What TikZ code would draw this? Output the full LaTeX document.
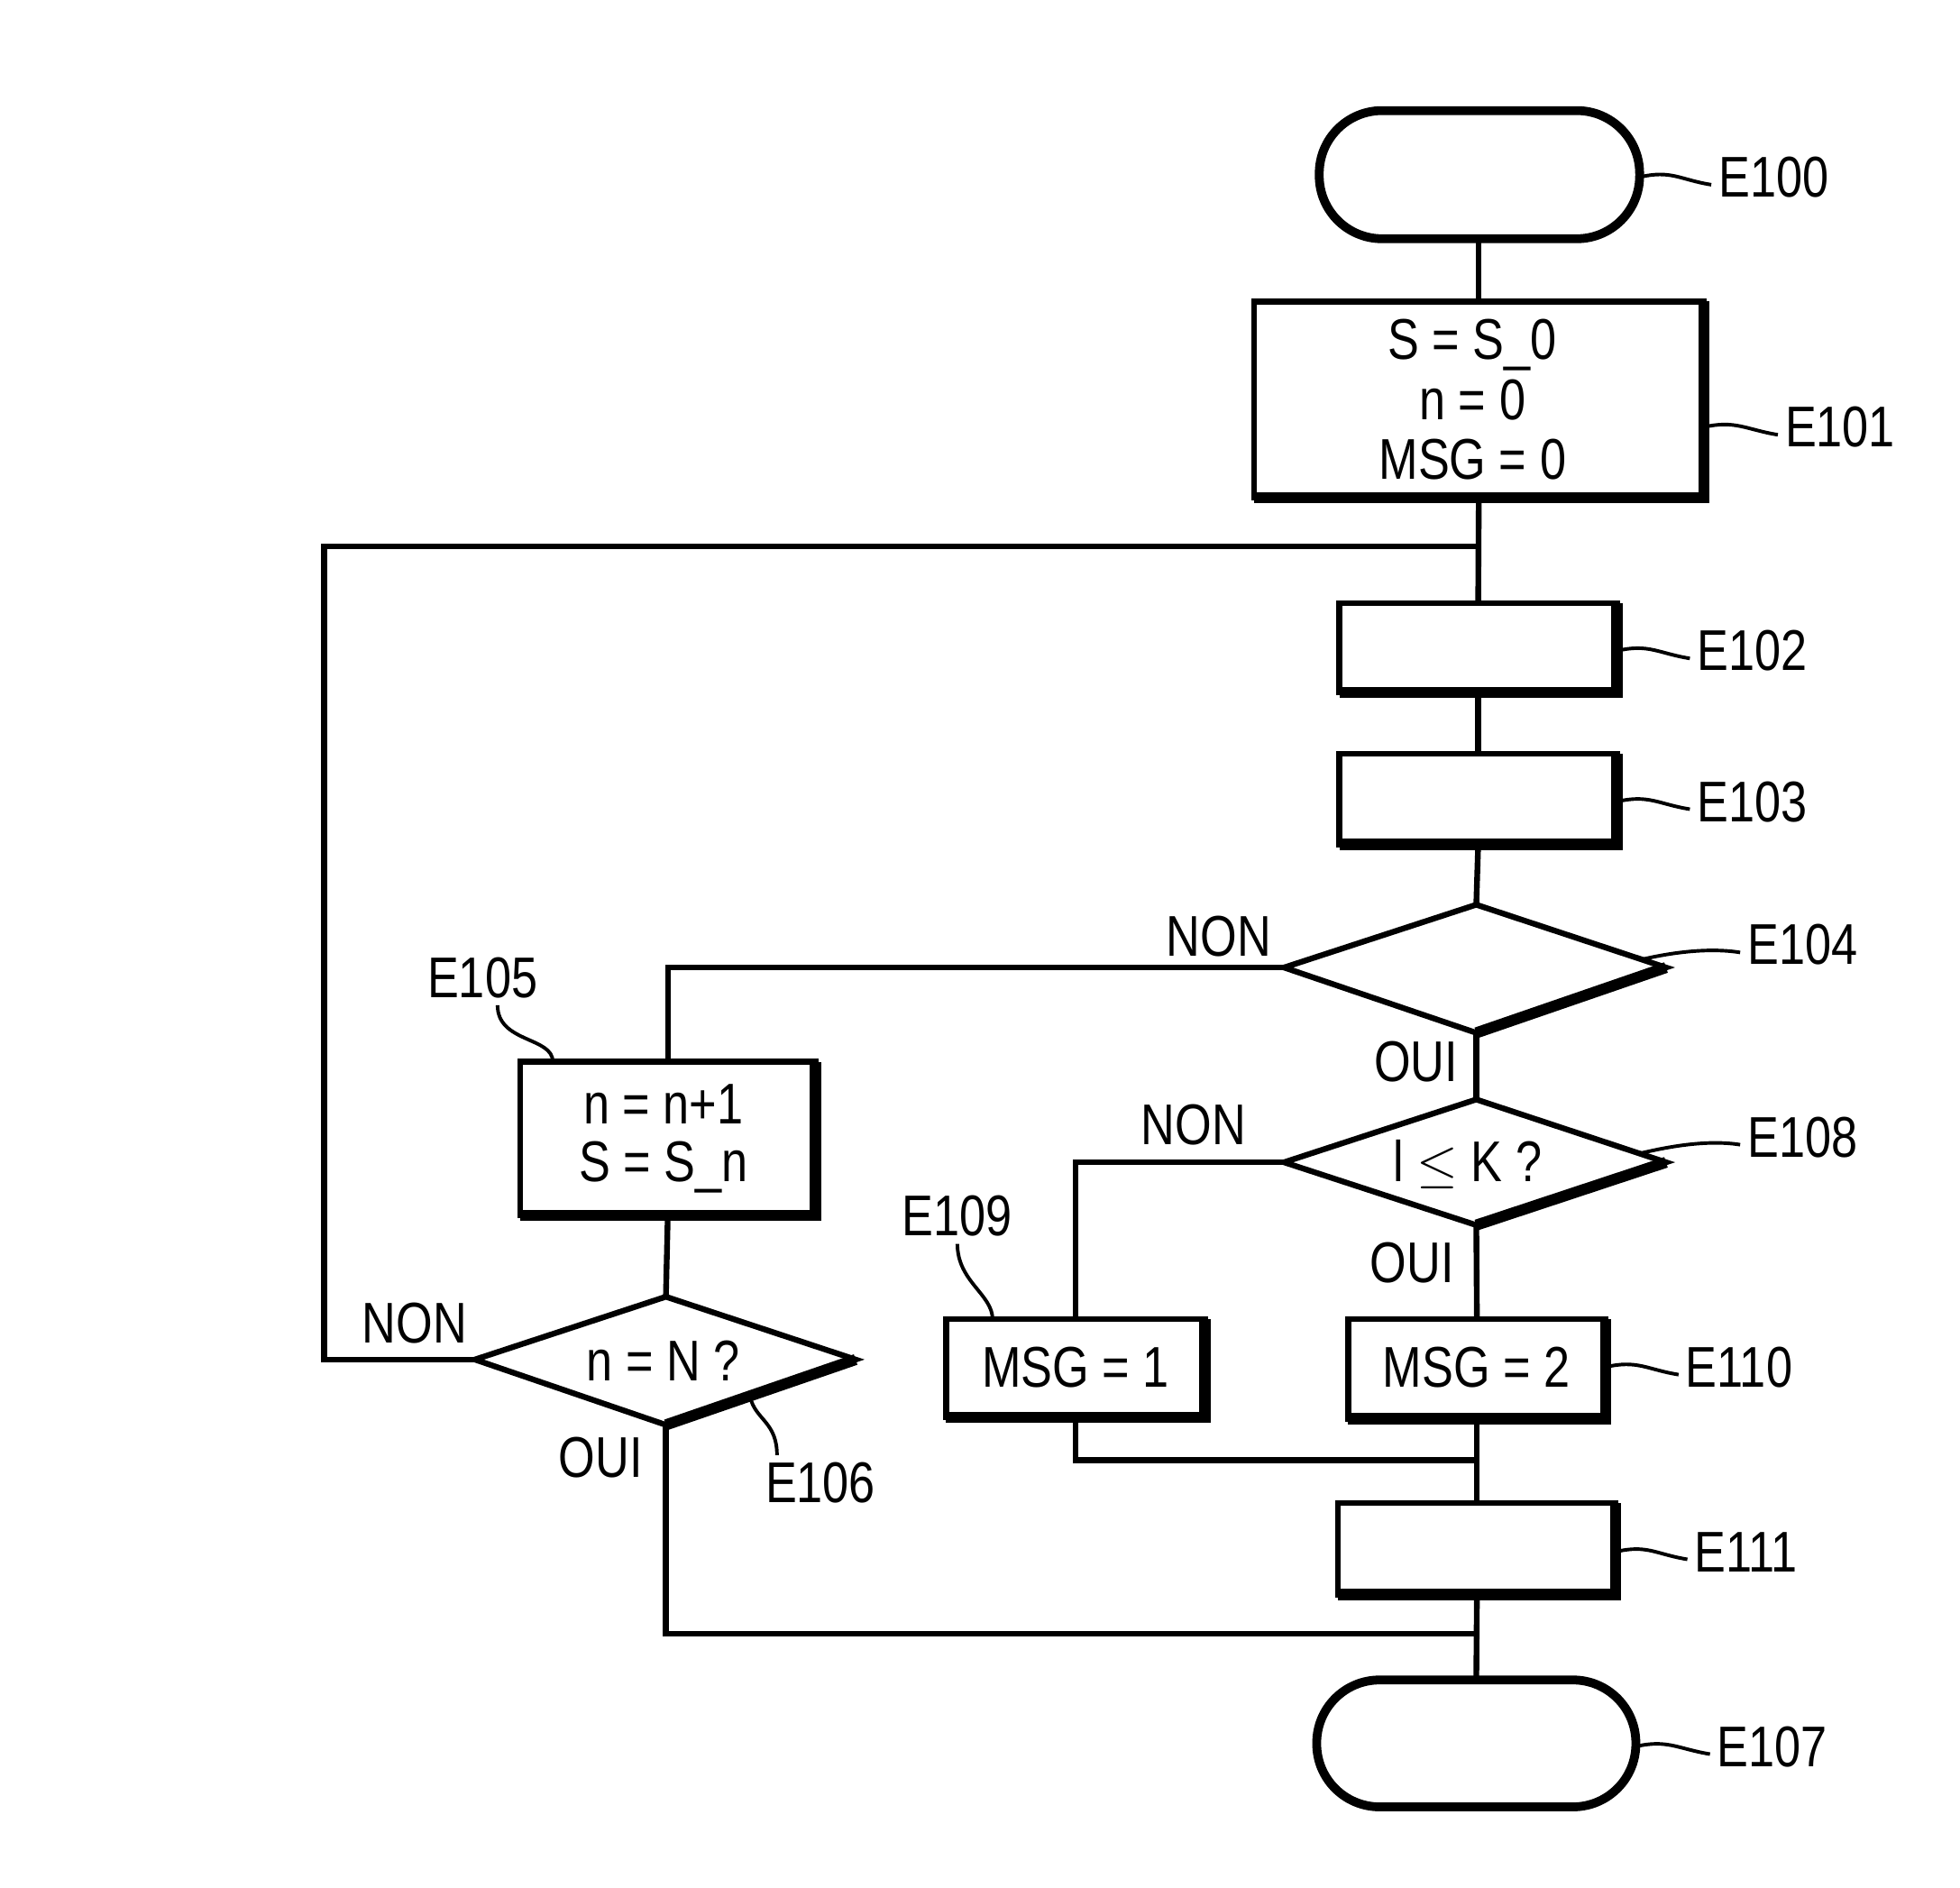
\documentclass[tikz,border=0pt]{standalone}
\usepackage{fontspec}
\setmainfont{Liberation Sans}[FakeStretch=0.82]
\usetikzlibrary{calc}
\begin{document}
\begin{tikzpicture}[x=0.01cm,y=-0.01cm,line width=1.3pt,
 lbl/.style={font=\fontsize{13}{15}\selectfont,inner sep=1pt},
 txt/.style={font=\fontsize{13}{13.6}\selectfont,align=center},
 lead/.style={line width=0.8pt}]
\useasboundingbox (0,0) rectangle (1560,1502);
\newcommand\mybox[5]{%
 \draw[line width=1.3pt] (#2,#3) rectangle (#4,#5);
 \draw[line width=2.5pt] (#2,#5) -- (#4,#5) -- (#4,#3);
 \coordinate (#1) at ({(#2+#4)/2},{(#3+#5)/2});
 \coordinate (#1n) at ({(#2+#4)/2},#3);
 \coordinate (#1s) at ({(#2+#4)/2},#5);
 \coordinate (#1e) at (#4,{(#3+#5)/2});}
% stadiums
\draw[line width=2pt,rounded corners=0.5cm] (1050,88) rectangle (1305,190);
\coordinate (e100s) at (1177,190); \coordinate (e100e) at (1305,141);
\draw[line width=2pt,rounded corners=0.5cm] (1048,1337) rectangle (1302,1438);
\coordinate (e107n) at (1175,1337); \coordinate (e107e) at (1302,1390);
% boxes
\mybox{b101}{998}{240}{1356}{396}
\mybox{b102}{1066}{480}{1287}{551}
\mybox{b103}{1066}{600}{1287}{672}
\mybox{b105}{414}{845}{649}{967}
\mybox{b109}{753}{1050}{959}{1128}
\mybox{b110}{1073}{1050}{1278}{1129}
\mybox{b111}{1065}{1196}{1286}{1269}
\coordinate (b101e) at (1356,340); \coordinate (b102e) at (1287,518);
\coordinate (b103e) at (1287,638); \coordinate (b110e) at (1278,1088);
\coordinate (b111e) at (1286,1235);
\coordinate (b105t) at (440,845); \coordinate (b109t) at (790,1050);
\node[txt] at (1172,318) {S = S\_0\\ n = 0\\ MSG = 0};
\node[txt,font=\fontsize{13}{13}\selectfont] at (528,906) {n = n+1\\ S = S\_n};
\node[txt] at (856,1088) {MSG = 1};
\node[txt] at (1175,1088) {MSG = 2};
% diamonds
\draw (1022,770) -- (1175,720) -- (1326,770) -- (1175,822) -- cycle;
\draw[line width=2.5pt] (1326,770) -- (1175,822);
\coordinate (d104w) at (1022,770); \coordinate (d104n) at (1175,720); \coordinate (d104s) at (1175,822); \coordinate (d104e) at (1305,764);
\draw (1022,925) -- (1175,875) -- (1326,925) -- (1175,975) -- cycle;
\draw[line width=2.5pt] (1326,925) -- (1175,975);
\coordinate (d108w) at (1022,925); \coordinate (d108n) at (1175,875); \coordinate (d108s) at (1175,975); \coordinate (d108e) at (1305,918);
\node[txt] at (1168,927) {l $\leq$ K ?};
\draw (378,1082) -- (530,1032) -- (681,1082) -- (530,1134) -- cycle;
\draw[line width=2.5pt] (681,1082) -- (530,1134);
\coordinate (d106w) at (378,1082); \coordinate (d106n) at (530,1032); \coordinate (d106s) at (530,1134); \coordinate (d106se) at (598,1115);
\node[txt] at (528,1083) {n = N ?};
% connectors
\coordinate (j1) at (1175,435);
\coordinate (j2) at (1175,1162);
\coordinate (j3) at (1175,1300);
\draw (e100s) -- (b101n);
\draw (b101s) -- (b102n);
\draw (b102s) -- (b103n);
\draw (b103s) -- (d104n);
\draw (d104s) -- (d108n);
\draw (d108s) -- (b110n);
\draw (b110s) -- (b111n);
\draw (b111s) -- (e107n);
\draw (j1) -| (258,1082) -- (d106w);
\draw (d104w) -| (b105n);
\draw (b105s) -- (d106n);
\draw (d106s) |- (j3);
\draw (d108w) -| (b109n);
\draw (b109s) |- (j2);
% yes/no labels
\node[lbl] at (970,745) {NON};
\node[lbl] at (1127,845) {OUI};
\node[lbl] at (950,895) {NON};
\node[lbl] at (1124,1005) {OUI};
\node[lbl] at (330,1053) {NON};
\node[lbl] at (478,1160) {OUI};
% reference labels
\newcommand\rlab[4]{\node[lbl,anchor=west] (#1) at (#3) {#4};
 \draw[lead] (#2) .. controls +(25,-6) and +(-25,-4) .. ($(#1.west)+(0,6)$);}
\rlab{l100}{e100e}{1362,141}{E100}
\rlab{l101}{b101e}{1415,340}{E101}
\rlab{l102}{b102e}{1345,518}{E102}
\rlab{l103}{b103e}{1345,638}{E103}
\rlab{l104}{d104e}{1385,752}{E104}
\rlab{l108}{d108e}{1385,905}{E108}
\rlab{l110}{b110e}{1336,1088}{E110}
\rlab{l111}{b111e}{1343,1235}{E111}
\rlab{l107}{e107e}{1361,1390}{E107}
\node[lbl] (l105) at (384,778) {E105};
\draw[lead] ($(l105.south)+(12,0)$) .. controls +(0,30) and +(0,-20) .. (b105t);
\node[lbl] (l109) at (762,968) {E109};
\draw[lead] (l109.south) .. controls +(0,30) and +(0,-20) .. (b109t);
\node[lbl] (l106) at (653,1180) {E106};
\draw[lead] ($(l106.north west)+(15,0)$) .. controls +(0,-25) and +(5,15) .. (d106se);
\end{tikzpicture}
\end{document}
